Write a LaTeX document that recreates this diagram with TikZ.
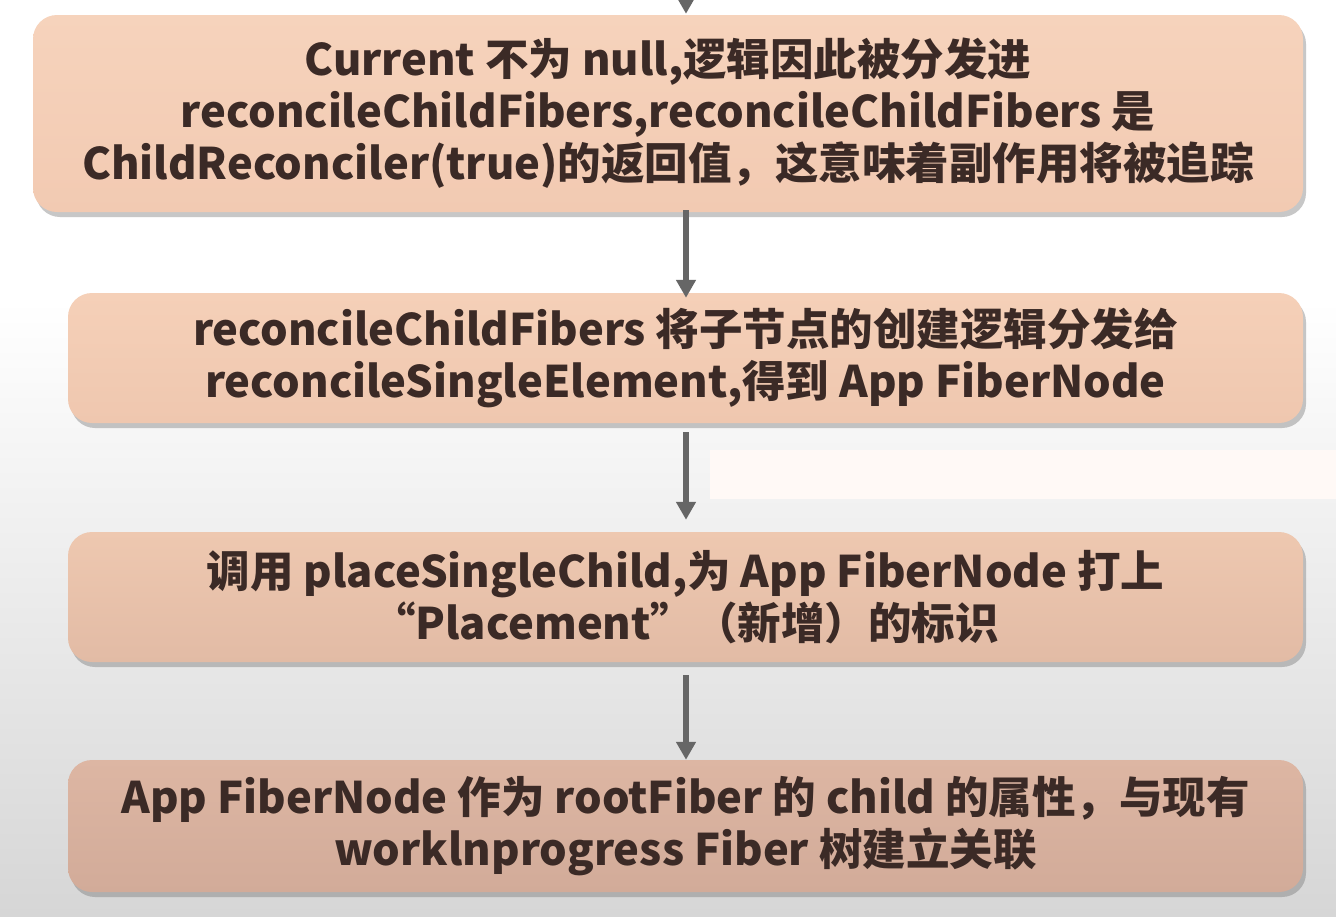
\documentclass[tikz,border=0pt]{standalone}
\usepackage{fontspec}
\setmainfont{Noto Sans CJK SC}
\usetikzlibrary{arrows.meta,shadows}
\definecolor{txt}{HTML}{3B2A26}
\definecolor{arrowgray}{HTML}{666666}
\definecolor{bgbottom}{HTML}{D6D6D6}
\definecolor{bandcol}{HTML}{FFF9F6}
\definecolor{boxAtop}{HTML}{F6D3BC}
\definecolor{boxAbot}{HTML}{F2CAB2}
\definecolor{boxBtop}{HTML}{F5D0B8}
\definecolor{boxBbot}{HTML}{EFC7AF}
\definecolor{boxCtop}{HTML}{EEC8B0}
\definecolor{boxCbot}{HTML}{E2BBA5}
\definecolor{boxDtop}{HTML}{DDB6A3}
\definecolor{boxDbot}{HTML}{D2AB99}
\tikzset{
  stepbox/.style={rectangle, rounded corners=24pt, align=center, inner sep=0pt,
    font=\fontsize{43.5pt}{52pt}\selectfont\bfseries, text=txt,
    drop shadow={shadow xshift=3pt, shadow yshift=-5pt, fill=black!55, opacity=0.4}},
  flowarrow/.style={draw=arrowgray, line width=5.5pt,
    -{Triangle[length=18pt,width=19pt]}}
}
\begin{document}
\begin{tikzpicture}[x=1pt,y=-1pt]
\useasboundingbox (0,0) rectangle (1336,916);
\fill[white] (0,0) rectangle (1336,916);
\shade[top color=white, bottom color=bgbottom] (0,300) rectangle (1336,916);
\fill[bandcol] (710,450) rectangle (1336,499);
\coordinate (ax) at (686,0);

\node[stepbox, top color=boxAtop, bottom color=boxAbot, minimum width=1270pt, minimum height=197pt] (b1) at (668,113.5)
  {Current 不为 null,逻辑因此被分发进\\reconcileChildFibers,reconcileChildFibers 是\\ChildReconciler(true)的返回值，这意味着副作用将被追踪};
\node[stepbox, top color=boxBtop, bottom color=boxBbot, minimum width=1235pt, minimum height=130pt] (b2) at (685.5,358)
  {reconcileChildFibers 将子节点的创建逻辑分发给\\reconcileSingleElement,得到 App FiberNode};
\node[stepbox, top color=boxCtop, bottom color=boxCbot, minimum width=1235pt, minimum height=130pt] (b3) at (685.5,597)
  {调用 placeSingleChild,为 App FiberNode 打上\\“Placement”（新增）的标识};
\node[stepbox, top color=boxDtop, bottom color=boxDbot, minimum width=1235pt, minimum height=132pt] (b4) at (685.5,826)
  {App FiberNode 作为 rootFiber 的 child 的属性，与现有\\worklnprogress Fiber 树建立关联};

\draw[flowarrow, shorten >=1pt] (ax) -- (b1.north -| ax);
\draw[flowarrow, shorten <=-2pt, shorten >=-5pt] (b1.south -| ax) -- (b2.north -| ax);
\draw[flowarrow, shorten <=9pt, shorten >=12pt] (b2.south -| ax) -- (b3.north -| ax);
\draw[flowarrow, shorten <=13pt, shorten >=0pt] (b3.south -| ax) -- (b4.north -| ax);
\end{tikzpicture}
\end{document}
